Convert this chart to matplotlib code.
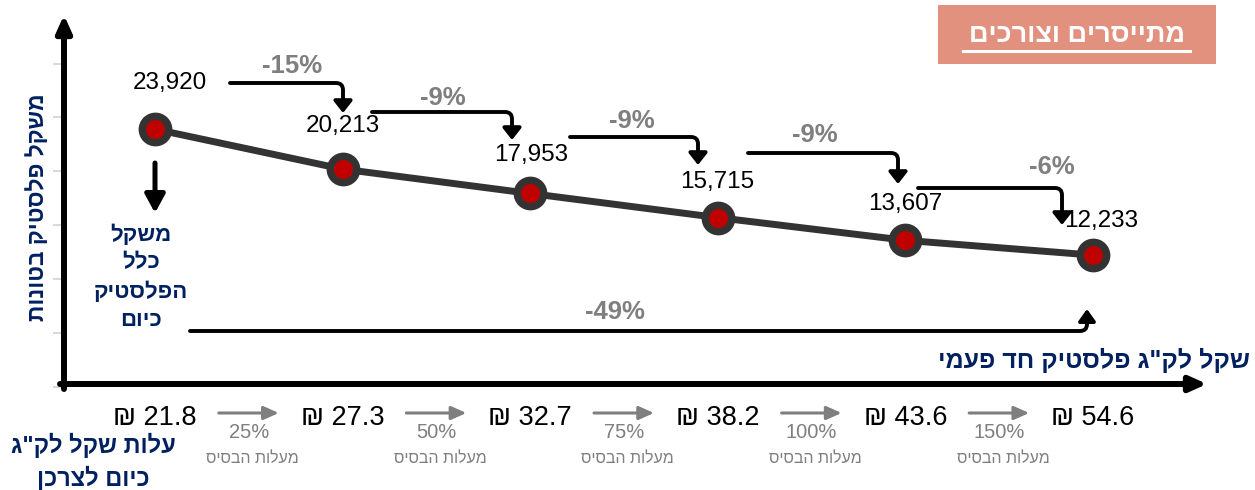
import numpy as np
import matplotlib
matplotlib.use('Agg')
import matplotlib.pyplot as plt
from matplotlib.patches import Rectangle
from matplotlib import transforms

plt.rcParams['font.family'] = ['Liberation Sans', 'DejaVu Sans']

# Chart data
prices = [21.8, 27.3, 32.7, 38.2, 43.6, 54.6]          # cost per kg (NIS)
weights = [23920, 20213, 17953, 15715, 13607, 12233]   # plastic weight (tons)
step_change = ['-15%', '-9%', '-9%', '-9%', '-6%']
total_change = '-49%'
price_rise = ['25%', '50%', '75%', '100%', '150%']

W, H = 1255, 490
NAVY = '#002060'
GRAY = '#7F7F7F'
LINE = '#333333'
RED = '#C00000'


def rtl(s):
    # matplotlib has no bidi support, so flip Hebrew to visual order
    return s[::-1]


fig = plt.figure(figsize=(W / 100, H / 100), dpi=100)

# main axes, placed so that x=0 sits at px 155 and y=0 at px 387
x0px, x1px, y0px, y1px = 64, 1206, 387, 15
ax = fig.add_axes([x0px / W, 1 - y0px / H, (x1px - x0px) / W, (y0px - y1px) / H])
ax.set_xlim((x0px - 155) / 187.6, (x1px - 155) / 187.6)
ax.set_ylim(0, (y0px - y1px) / 0.01078)
ax.set_xticks([])
ax.set_yticks(np.arange(0, 30001, 5000))
ax.tick_params(axis='y', length=8, width=1.5, color='#D9D9D9', labelleft=False)
for s in ax.spines.values():
    s.set_visible(False)
ax.patch.set_alpha(0)

xs = np.arange(len(weights))
ax.plot(xs, weights, color=LINE, lw=5, marker='o', ms=19, mfc=RED, mec=LINE,
        mew=5.3, solid_capstyle='round', zorder=3)

label_off = [(15, 46), (0, 43), (1, 38), (-1, 36), (0, 36), (8, 34)]
for x, w, (dx, dy) in zip(xs, weights, label_off):
    ax.annotate(f'{w:,}', (x, w), xytext=(dx, dy), textcoords='offset pixels',
                ha='center', va='center', fontsize=17.5, color='black', zorder=4)

# overlay in pixel coordinates for the decorations
ov = fig.add_axes([0, 0, 1, 1], zorder=5)
ov.set_xlim(0, W)
ov.set_ylim(H, 0)
ov.axis('off')
ov.patch.set_alpha(0)


def arrow(a, b, lw, hw, hl, color='black', conn=None, coords='data'):
    props = dict(arrowstyle=f'-|>,head_width={hw},head_length={hl}', lw=lw,
                 color=color, shrinkA=0, shrinkB=0, mutation_scale=10)
    if conn:
        props['connectionstyle'] = conn
    ov.annotate('', xy=b, xytext=a, xycoords=coords, textcoords=coords,
                arrowprops=props, annotation_clip=False)


# axis arrows
arrow((64, 389), (64, 15), 4.3, 0.45, 1.0)
arrow((60, 384), (1207, 384), 4.3, 0.45, 1.0)

# step arrows between points
step_arrows = [((230, 83), (343, 113)), ((372, 112), (512, 140)),
               ((570, 137), (698, 165)), ((748, 153), (898, 184)),
               ((918, 188), (1062, 225))]
step_pos = [(292, 66), (443, 98), (632, 121), (815, 135), (1052, 167)]
for (a, b), lab, p in zip(step_arrows, step_change, step_pos):
    arrow(a, b, 2.8, 0.55, 0.7, conn='angle,angleA=0,angleB=90,rad=7')
    ov.text(p[0], p[1], lab, ha='center', va='center', fontsize=18.5,
            fontweight='bold', color=GRAY)

# overall change arrow
arrow((190, 331), (1087, 309), 2.8, 0.5, 0.7, conn='angle,angleA=0,angleB=90,rad=7')
ov.text(615, 312, total_change, ha='center', va='center', fontsize=18.5,
        fontweight='bold', color=GRAY)

# arrow down from today's total
arrow((155, 163), (155, 213), 3.6, 0.6, 1.1)
for y, t in zip([235, 263, 292, 320], ['משקל', 'כלל', 'הפלסטיק', 'כיום']):
    ov.text(141, y, rtl(t), ha='center', va='center', fontsize=16,
            fontweight='bold', color=NAVY)

# bottom row: prices and increases
blend = transforms.blended_transform_factory(ax.transData, ov.transData)
for x, p in zip(xs, prices):
    ov.text(x, 418, f'₪ {p}', transform=blend, ha='center', va='center',
            fontsize=19.5, color='black')
for i, r in enumerate(price_rise):
    xm = i + 0.5
    arrow((xm - 0.16, 413), (xm + 0.16, 413), 2.2, 0.4, 0.9, color=GRAY, coords=blend)
    ov.text(xm, 432, r, transform=blend, ha='center', va='center',
            fontsize=14.5, color=GRAY)
    ov.text(xm + 0.02, 458, rtl('מעלות הבסיס'), transform=blend, ha='center',
            va='center', fontsize=11.5, color=GRAY)

ov.text(93, 445, rtl('עלות שקל לק"ג'), ha='center', va='center', fontsize=17,
        fontweight='bold', color=NAVY)
ov.text(93, 478, rtl('כיום לצרכן'), ha='center', va='center', fontsize=17,
        fontweight='bold', color=NAVY)

# axis titles
ov.text(1250, 360, rtl('שקל לק"ג פלסטיק חד פעמי'), ha='right', va='center',
        fontsize=18, fontweight='bold', color=NAVY)
ov.text(38, 207, rtl('משקל פלסטיק בטונות'), ha='center', va='center',
        rotation=90, fontsize=16.5, fontweight='bold', color=NAVY)

# scenario tag
ov.add_patch(Rectangle((938, 5), 278, 59, facecolor='#E3917F', edgecolor='none'))
ov.text(1077, 35, rtl('מתייסרים וצורכים'), ha='center', va='center',
        fontsize=19.5, fontweight='bold', color='white')
ov.plot([963, 1190], [51, 51], color='white', lw=2.2)

fig.savefig('out.png', dpi=100, facecolor='white')
